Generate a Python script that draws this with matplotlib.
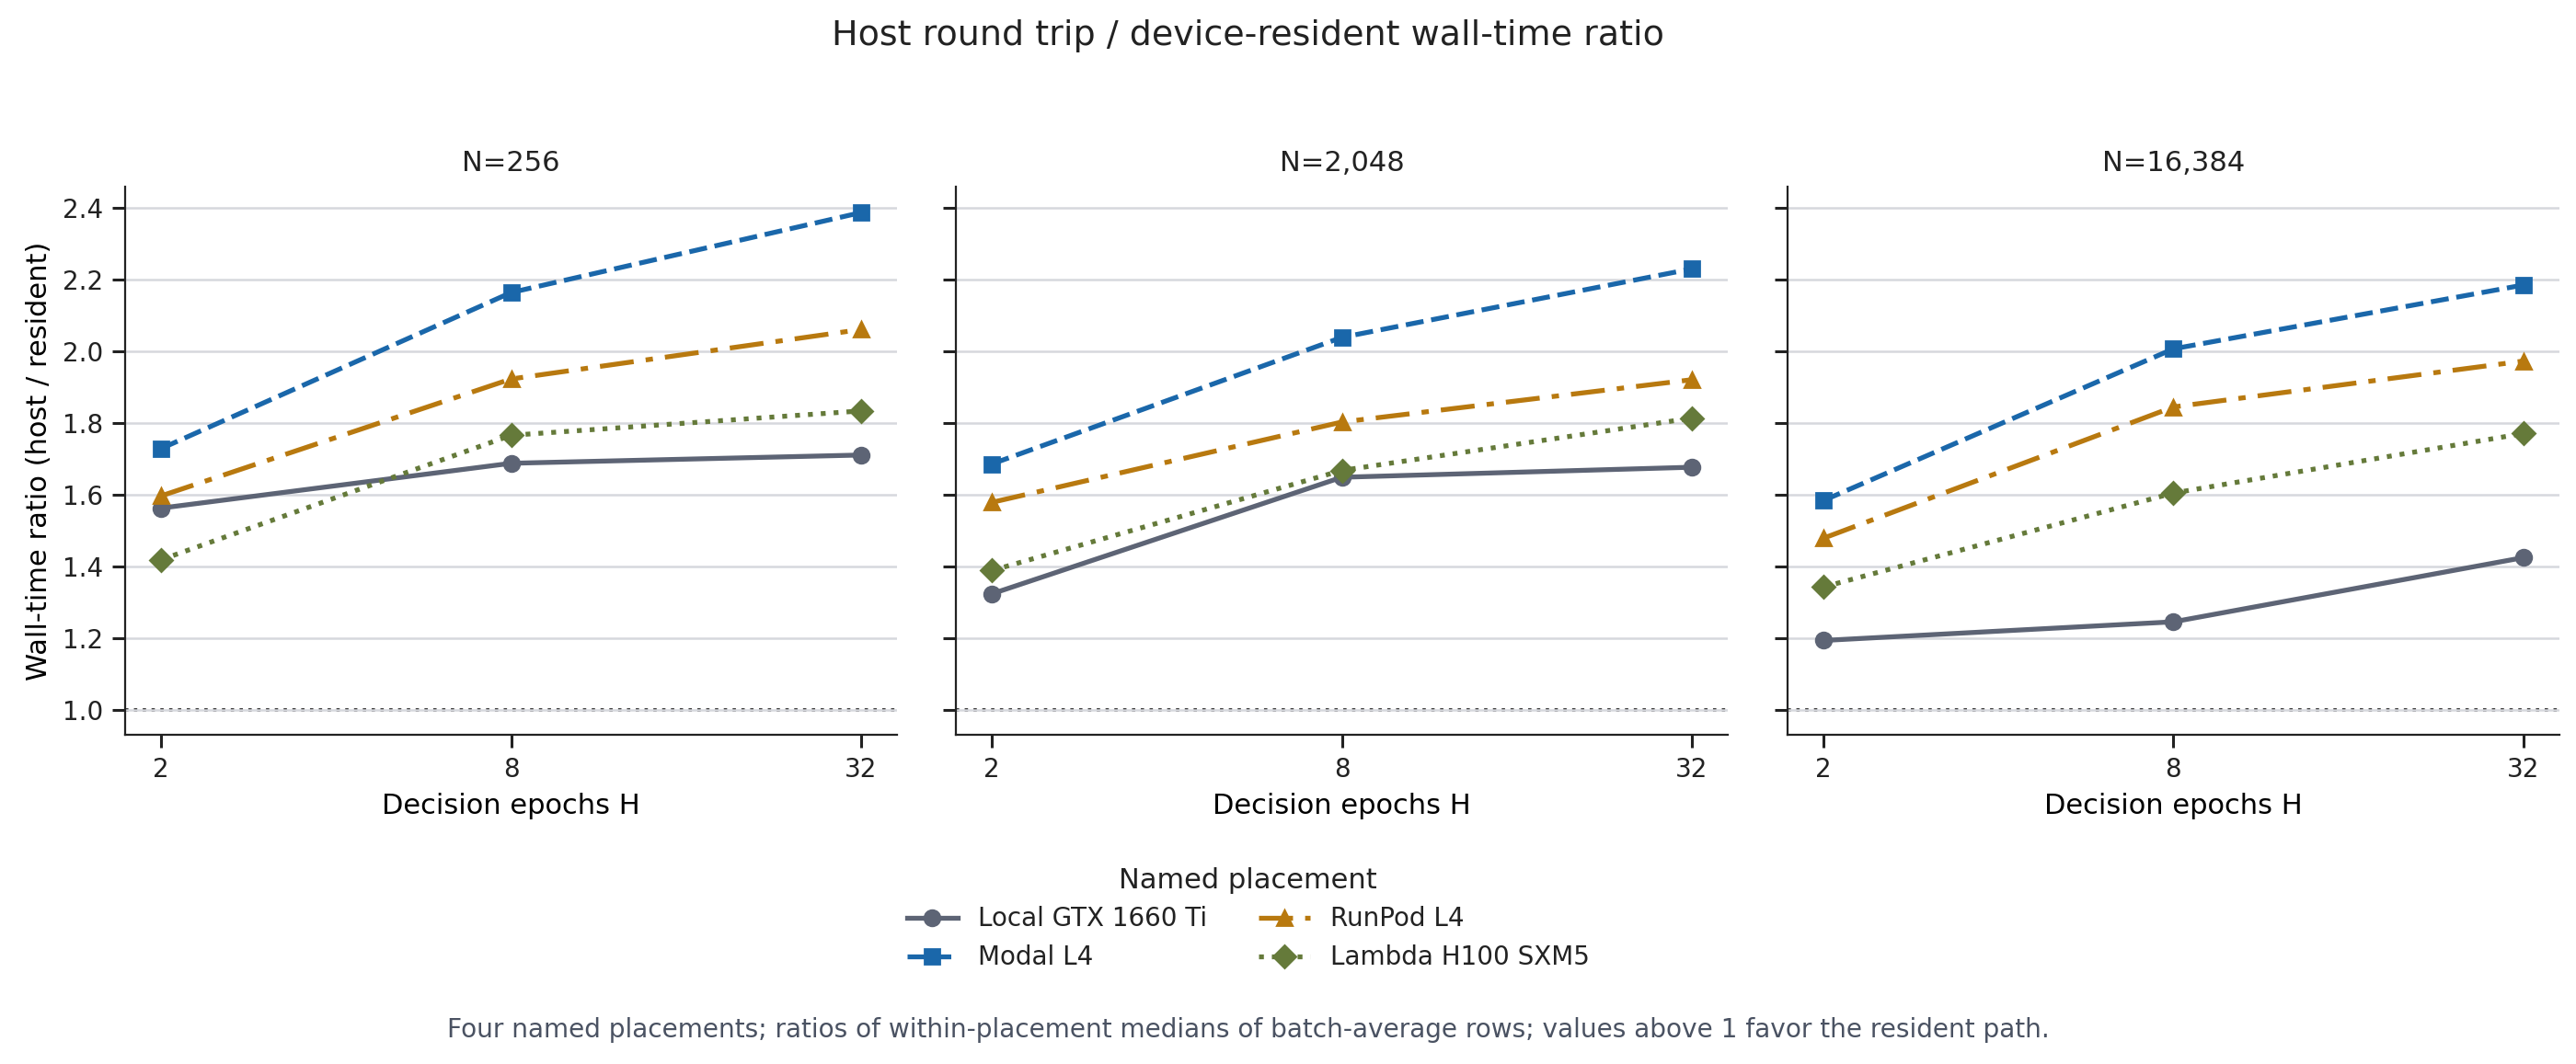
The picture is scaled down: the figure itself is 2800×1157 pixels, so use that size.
import matplotlib as mpl
mpl.use("Agg")
import matplotlib.pyplot as plt
from matplotlib.ticker import FixedLocator, FixedFormatter, NullLocator

# data
horizons = [2, 8, 32]
panels = ["N=256", "N=2,048", "N=16,384"]
placements = ["Local GTX 1660 Ti", "Modal L4", "RunPod L4", "Lambda H100 SXM5"]

local_gtx = [[1.563, 1.688, 1.711], [1.324, 1.649, 1.677], [1.194, 1.246, 1.425]]
modal_l4 = [[1.729, 2.164, 2.387], [1.686, 2.039, 2.230], [1.584, 2.007, 2.185]]
runpod_l4 = [[1.597, 1.923, 2.061], [1.579, 1.803, 1.921], [1.479, 1.845, 1.973]]
lambda_h100 = [[1.419, 1.766, 1.834], [1.389, 1.668, 1.814], [1.343, 1.605, 1.771]]

series = [local_gtx, modal_l4, runpod_l4, lambda_h100]
colors = ["#5d6475", "#1a67aa", "#b8790f", "#657a3a"]
styles = ["-", "--", (0, (7, 2.5, 1.5, 2.5)), ":"]
markers = ["o", "s", "^", "D"]

plt.rcParams["font.family"] = ["DejaVu Sans"]
plt.rcParams["axes.edgecolor"] = "#222222"
plt.rcParams["xtick.color"] = "#222222"
plt.rcParams["ytick.color"] = "#222222"
plt.rcParams["text.color"] = "#222222"

fig = plt.figure(figsize=(14, 5.785), dpi=200)
lefts = [0.0486, 0.3711, 0.6939]  # three panels, shared y
axes = []
for left in lefts:
    ax = fig.add_axes([left, 0.3094, 0.2996, 0.5151], sharey=axes[0] if axes else None)
    axes.append(ax)

handles = []
for i, ax in enumerate(axes):
    ax.grid(axis="y", color="#d6d8dd", lw=0.9, zorder=0)
    ax.axhline(1.0, ls=":", color="#1a1a1a", lw=1.3, zorder=1)
    for k, name in enumerate(placements):
        ln, = ax.plot(horizons, series[k][i], color=colors[k], ls=styles[k],
                      marker=markers[k], lw=1.9, ms=6, label=name, zorder=3)
        if i == 0:
            handles.append(ln)
    ax.set_xscale("log", base=2)
    ax.set_xlim(2 / 2 ** 0.205, 32 * 2 ** 0.205)
    ax.xaxis.set_major_locator(FixedLocator(horizons))
    ax.xaxis.set_major_formatter(FixedFormatter([str(h) for h in horizons]))
    ax.xaxis.set_minor_locator(NullLocator())
    ax.set_ylim(0.931, 2.459)
    ax.set_yticks([1.0, 1.2, 1.4, 1.6, 1.8, 2.0, 2.2, 2.4])
    ax.spines["top"].set_visible(False)
    ax.spines["right"].set_visible(False)
    ax.tick_params(labelsize=10, length=5, width=1.1)
    ax.set_xlabel("Decision epochs H", fontsize=11)
    ax.set_title(panels[i], fontsize=11)
    if i > 0:
        ax.tick_params(labelleft=False)
axes[0].set_ylabel("Wall-time ratio (host / resident)", fontsize=11)

fig.suptitle("Host round trip / device-resident wall-time ratio", fontsize=13.7,
             x=0.4845, y=0.982)
fig.legend(handles=handles, labels=placements, title="Named placement", ncol=2,
           loc="upper center", bbox_to_anchor=(0.4845, 0.207), frameon=False,
           fontsize=10, title_fontsize=11, columnspacing=2.0)
fig.text(0.4845, 0.032, "Four named placements; ratios of within-placement medians of batch-average rows; "
         "values above 1 favor the resident path.", ha="center", va="center",
         fontsize=10.1, color="#4a5262")

fig.savefig("out.png", dpi=200)
